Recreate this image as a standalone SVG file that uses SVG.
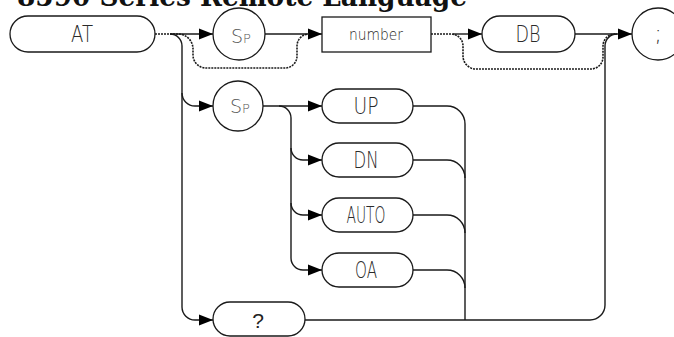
<svg xmlns="http://www.w3.org/2000/svg" width="674" height="337" viewBox="0 0 674 337">
  <style>
    .node { fill: #ffffff; stroke: #1a1a1a; stroke-width: 1.3; }
    .lbl { font-family: "DejaVu Sans", "Liberation Sans", sans-serif; font-weight: 200; font-size: 23px; fill: #2a2a2a; text-anchor: middle; }
    .small { font-size: 16px; }
    .sp { font-family: "DejaVu Sans", "Liberation Sans", sans-serif; font-weight: 200; font-size: 19px; fill: #555555; }
    .sub { font-size: 13px; }
    .q { font-family: "Liberation Sans", Arial, sans-serif; font-size: 21px; fill: #222222; text-anchor: middle; }
    .wire { fill: none; stroke: #1a1a1a; stroke-width: 1.4; }
    .opt { fill: none; stroke: #1a1a1a; stroke-width: 1.6; stroke-dasharray: 2 1; }
    .title { font-family: "DejaVu Serif", "Liberation Serif", serif; font-weight: bold; font-size: 27px; fill: #111111; }
  </style>
  <defs>
    <marker id="arr" markerWidth="14" markerHeight="12" refX="14" refY="6" orient="auto" markerUnits="userSpaceOnUse">
      <path d="M0,0.5 L14,6 L0,11.5 Z" fill="#000000"/>
    </marker>
  </defs>

  <text class="title" x="17" y="6" textLength="450" lengthAdjust="spacingAndGlyphs">8590 Series Remote Language</text>

  <!-- connectors -->
  <g id="connectors">
    <!-- main row -->
    <path class="wire" d="M170,34 H213" marker-end="url(#arr)"/>
    <path class="wire" d="M265,34 H322" marker-end="url(#arr)"/>
    <path class="wire" d="M453,34 H482" marker-end="url(#arr)"/>
    <path class="wire" d="M575,34 H632" marker-end="url(#arr)"/>

    <!-- optional bypass around Sp / number -->
    <path class="opt" d="M155,34 H178 A15,15 0 0 1 193,49 V55 A13,13 0 0 0 206,68 H285 A12,12 0 0 0 297,56 V46 A12,12 0 0 1 309,34"/>
    <!-- optional bypass around DB -->
    <path class="opt" d="M431,34 H451 A12,12 0 0 1 463,46 V56 A13,13 0 0 0 476,69 H591 A12,12 0 0 0 603,57 V46 A12,12 0 0 1 615,34"/>

    <!-- left trunk to Sp2 and ? -->
    <path class="wire" d="M170,34 A12,12 0 0 1 182,46 V307 A13,13 0 0 0 195,320 H213" marker-end="url(#arr)"/>
    <path class="wire" d="M182,93 A13,13 0 0 0 195,106 H213" marker-end="url(#arr)"/>

    <!-- Sp2 fan-out -->
    <path class="wire" d="M263,106 H322" marker-end="url(#arr)"/>
    <path class="wire" d="M279,106 A12,12 0 0 1 291,118 V258 A12,12 0 0 0 303,270 H322" marker-end="url(#arr)"/>
    <path class="wire" d="M291,148 A12,12 0 0 0 303,160 H322" marker-end="url(#arr)"/>
    <path class="wire" d="M291,203 A12,12 0 0 0 303,215 H322" marker-end="url(#arr)"/>

    <!-- fan-in of UP / DN / AUTO / OA -->
    <path class="wire" d="M413,106 H447 A18,18 0 0 1 465,124 V320"/>
    <path class="wire" d="M413,160 H447 A18,18 0 0 1 465,178"/>
    <path class="wire" d="M413,215 H447 A18,18 0 0 1 465,233"/>
    <path class="wire" d="M413,270 H447 A18,18 0 0 1 465,288"/>

    <!-- return path to terminator -->
    <path class="wire" d="M305,320 H590 A15,15 0 0 0 605,305 V46 A12,12 0 0 1 617,34"/>
  </g>

  <g id="node-at">
    <rect class="node" x="10" y="16" width="145" height="36" rx="18"/>
    <text class="lbl" x="82" y="42" textLength="22" lengthAdjust="spacingAndGlyphs">AT</text>
  </g>

  <g id="node-sp1">
    <circle class="node" cx="239" cy="34" r="26"/>
    <text class="sp" x="231" y="43">S<tspan class="sub">P</tspan></text>
  </g>

  <g id="node-number">
    <rect class="node" x="322" y="17" width="109" height="35"/>
    <text class="lbl small" x="376" y="40" textLength="54" lengthAdjust="spacingAndGlyphs">number</text>
  </g>

  <g id="node-db">
    <rect class="node" x="482" y="16" width="93" height="36" rx="18"/>
    <text class="lbl" x="528" y="42" textLength="25" lengthAdjust="spacingAndGlyphs">DB</text>
  </g>

  <g id="node-semicolon">
    <circle class="node" cx="658" cy="34" r="26"/>
    <text class="lbl" x="658" y="41" font-size="20">;</text>
  </g>

  <g id="node-sp2">
    <circle class="node" cx="238" cy="106" r="25"/>
    <text class="sp" x="230" y="113">S<tspan class="sub">P</tspan></text>
  </g>

  <g id="node-up">
    <rect class="node" x="322" y="89" width="91" height="34" rx="17"/>
    <text class="lbl" x="366" y="114" textLength="25" lengthAdjust="spacingAndGlyphs">UP</text>
  </g>

  <g id="node-dn">
    <rect class="node" x="322" y="143" width="91" height="34" rx="17"/>
    <text class="lbl" x="366" y="168" textLength="25" lengthAdjust="spacingAndGlyphs">DN</text>
  </g>

  <g id="node-auto">
    <rect class="node" x="322" y="198" width="91" height="34" rx="17"/>
    <text class="lbl" x="366" y="223" textLength="39" lengthAdjust="spacingAndGlyphs">AUTO</text>
  </g>

  <g id="node-oa">
    <rect class="node" x="322" y="253" width="91" height="34" rx="17"/>
    <text class="lbl" x="366" y="278" textLength="22" lengthAdjust="spacingAndGlyphs">OA</text>
  </g>

  <g id="node-query">
    <rect class="node" x="213" y="302" width="92" height="34" rx="17"/>
    <text class="q" x="258" y="328">?</text>
  </g>
</svg>
